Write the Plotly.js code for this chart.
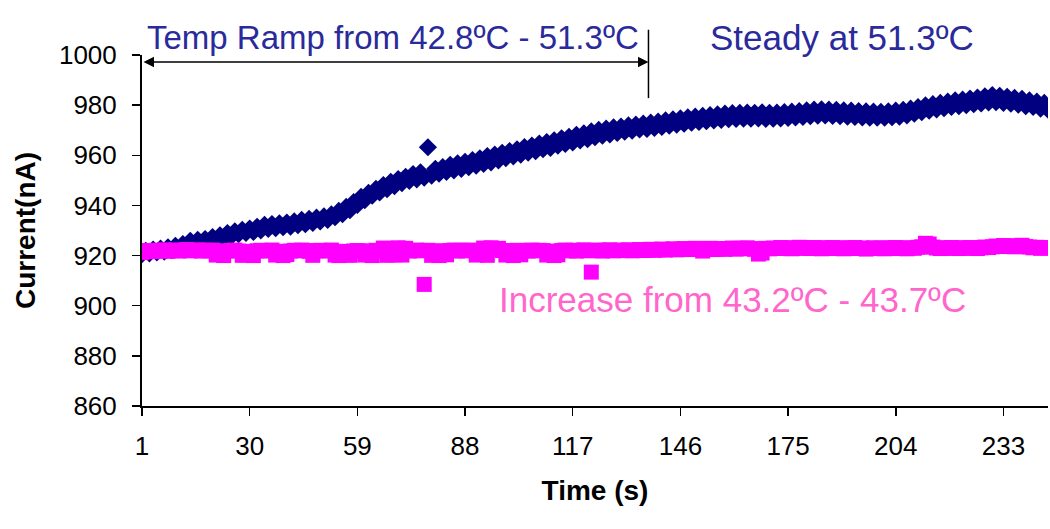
<!DOCTYPE html>
<html>
<head>
<meta charset="utf-8">
<script src="https://cdn.plot.ly/plotly-3.0.1.min.js"></script>
<style>html,body{margin:0;padding:0;background:#fff;}#chart{width:1050px;height:529px;}</style>
</head>
<body>
<div id="chart"></div>
<script>
// Time index 1..245 (s)
const timeStart = 1;
const timeCount = 245;

// Series 1: temperature ramp 42.8ºC - 51.3ºC, then steady at 51.3ºC (navy diamonds)
const currentRamp = [
 920.6, 921.9, 920.9, 922.4, 921.3, 922.8, 921.6, 923.3, 922.2, 923.9,
 922.6, 924.6, 923.5, 925.9, 924.2, 926.3, 925.0, 926.6, 925.5, 927.4,
 926.3, 928.1, 926.9, 929.0, 927.6, 929.7, 928.5, 930.3, 929.0, 930.8,
 929.4, 931.5, 930.0, 932.3, 930.6, 932.6, 930.9, 932.9, 931.3, 933.2,
 931.5, 933.6, 932.1, 934.2, 932.5, 934.6, 933.0, 935.1, 933.6, 935.6,
 934.2, 936.4, 935.3, 937.8, 936.5, 939.4, 938.1, 941.3, 940.2, 943.4,
 942.1, 945.0, 943.9, 946.6, 945.2, 948.1, 946.5, 949.4, 947.7, 950.5,
 948.9, 951.4, 949.8, 952.5, 950.4, 953.2, 951.1, 963.2, 951.9, 954.6,
 952.7, 955.3, 953.4, 956.2, 954.0, 956.8, 954.6, 957.4, 955.3, 958.1,
 955.9, 958.8, 956.6, 959.7, 957.2, 960.3, 958.0, 961.0, 958.9, 961.7,
 959.6, 962.4, 960.3, 963.3, 961.1, 963.9, 961.6, 964.7, 962.4, 965.3,
 962.9, 966.0, 963.8, 966.8, 964.5, 967.4, 965.1, 968.2, 965.9, 968.7,
 966.4, 969.5, 967.2, 970.1, 967.8, 970.6, 968.3, 971.1, 968.9, 971.4,
 969.4, 971.9, 969.8, 972.2, 970.3, 972.6, 970.5, 973.0, 970.9, 973.4,
 971.3, 973.9, 971.8, 974.3, 972.2, 974.7, 972.6, 975.1, 973.0, 975.4,
 973.3, 975.7, 973.6, 976.0, 973.9, 976.3, 974.1, 976.6, 974.4, 976.8,
 974.5, 976.9, 974.6, 977.0, 974.6, 976.9, 974.7, 977.1, 974.5, 976.9,
 974.6, 977.0, 974.7, 977.2, 974.9, 977.4, 975.1, 977.6, 975.3, 977.9,
 975.6, 978.2, 975.8, 978.3, 975.9, 978.2, 975.7, 978.1, 975.6, 977.9,
 975.4, 977.8, 975.3, 977.6, 975.1, 977.5, 975.0, 977.4, 975.0, 977.3,
 975.0, 977.5, 975.2, 977.8, 975.4, 978.1, 975.9, 978.6, 976.6, 979.2,
 977.2, 979.9, 977.8, 980.4, 978.3, 980.9, 978.8, 981.4, 979.3, 981.9,
 979.6, 982.2, 980.0, 982.6, 980.4, 983.0, 980.7, 983.5, 981.1, 984.0,
 981.2, 983.7, 980.9, 983.3, 980.6, 982.9, 980.2, 982.5, 979.6, 981.9,
 979.3, 981.4, 978.6, 980.9, 978.2
];

// Series 2: small increase 43.2ºC - 43.7ºC (magenta squares)
const currentSmall = [
 921.2, 921.8, 922.0, 921.6, 922.1, 921.9, 922.3, 921.7, 922.0, 922.2,
 921.8, 922.1, 922.4, 921.9, 922.0, 922.3, 921.8, 922.1, 921.9, 922.2,
 920.2, 921.6, 920.0, 921.9, 922.0, 922.2, 921.8, 920.1, 920.3, 921.7,
 920.0, 921.9, 922.1, 922.0, 921.8, 922.2, 920.2, 921.7, 920.0, 920.4,
 921.8, 922.1, 921.9, 922.2, 922.0, 921.7, 920.1, 921.9, 922.1, 922.0,
 921.8, 922.2, 920.2, 920.0, 921.7, 920.3, 920.1, 921.8, 922.0, 921.9,
 920.2, 921.7, 920.0, 922.1, 921.9, 923.0, 920.1, 922.8, 920.3, 923.1,
 920.2, 922.9, 921.8, 922.0, 922.2, 921.9, 908.5, 922.1, 920.1, 921.8,
 920.0, 921.9, 920.3, 922.0, 922.2, 921.8, 922.1, 921.9, 922.2, 922.0,
 920.2, 921.8, 923.0, 920.1, 923.1, 922.8, 922.9, 922.0, 920.2, 921.9,
 920.0, 922.1, 920.3, 922.0, 921.8, 922.2, 921.9, 922.1, 922.0, 920.2,
 921.8, 920.0, 920.3, 922.0, 922.2, 921.9, 922.1, 921.8, 922.0, 922.3,
 921.9, 913.4, 922.0, 922.2, 921.8, 922.1, 922.3, 921.9, 922.0, 922.2,
 922.0, 922.3, 921.9, 922.1, 922.4, 922.0, 922.2, 922.5, 922.1, 922.3,
 922.6, 922.2, 922.4, 922.7, 922.3, 922.5, 922.8, 922.4, 922.6, 922.9,
 922.5, 921.8, 922.7, 922.9, 922.4, 922.6, 922.8, 922.5, 922.7, 923.0,
 922.6, 922.9, 922.7, 923.1, 922.8, 922.5, 920.6, 921.0, 922.9, 922.7,
 923.0, 922.8, 923.2, 922.9, 923.1, 922.7, 923.0, 923.3, 922.9, 923.1,
 922.8, 923.2, 923.0, 922.7, 923.1, 922.9, 923.2, 922.8, 923.0, 922.7,
 923.1, 922.9, 923.2, 922.8, 923.0, 922.6, 922.9, 923.1, 922.8, 923.0,
 922.7, 923.1, 922.9, 923.2, 922.8, 923.0, 922.7, 923.1, 922.9, 923.3,
 923.5, 924.9, 924.6, 923.4, 923.0, 922.8, 923.1, 922.9, 923.2, 923.0,
 922.8, 923.1, 922.9, 923.2, 923.0, 922.8, 923.1, 923.4, 923.2, 923.5,
 923.8, 923.6, 924.0, 923.7, 923.9, 923.5, 923.8, 924.1, 923.6, 923.4,
 923.1, 923.3, 922.9, 923.2, 923.0
];

const xTickVals = [1, 30, 59, 88, 117, 146, 175, 204, 233];
const yTickVals = [860, 880, 900, 920, 940, 960, 980, 1000];
const xRange = [1, 245];
const yRange = [860, 1000];

// annotation labels
const rampLabel = "Temp Ramp from 42.8ºC - 51.3ºC";
const steadyLabel = "Steady at 51.3ºC";
const smallLabel = "Increase from 43.2ºC - 43.7ºC";
const rampEnd = 137.4;      // end of ramp period (s)
const arrowLevel = 997.2;   // current level of the arrow (nA)

const times = [];
for (let i = 0; i < timeCount; i++) times.push(timeStart + i);

const FONT = "Liberation Sans, Arial, sans-serif";
const xFrac = v => (v - xRange[0]) / (xRange[1] - xRange[0]);
const yFrac = v => (v - yRange[0]) / (yRange[1] - yRange[0]);

const traces = [
  {
    x: times, y: currentRamp, type: "scatter", mode: "markers",
    name: "ramp",
    marker: {symbol: "diamond", size: 14, color: "#000080", line: {width: 0}},
    cliponaxis: true
  },
  {
    x: times, y: currentSmall, type: "scatter", mode: "markers",
    name: "small",
    marker: {symbol: "square", size: 15, color: "#FF00FF", line: {width: 0}},
    cliponaxis: true
  }
];

const layout = {
  width: 1050, height: 529,
  margin: {l: 142, r: 2, t: 55, b: 123},
  paper_bgcolor: "#ffffff", plot_bgcolor: "#ffffff",
  showlegend: false,
  font: {family: FONT, color: "#000"},
  xaxis: {
    range: xRange, tickvals: xTickVals, ticktext: xTickVals.map(String),
    showgrid: false, zeroline: false, showline: true, linecolor: "#000", linewidth: 1.5,
    ticks: "outside", ticklen: 8, tickwidth: 1.5, tickcolor: "#000",
    ticklabelstandoff: 8,
    tickfont: {family: FONT, size: 26, color: "#000"},
    title: {text: "Time (s)", font: {family: FONT, size: 28, color: "#000", weight: "bold"}, standoff: 20}
  },
  yaxis: {
    range: yRange, tickvals: yTickVals,
    showgrid: false, zeroline: false, showline: true, linecolor: "#000", linewidth: 2,
    ticks: "outside", ticklen: 8, tickwidth: 1.5, tickcolor: "#000",
    ticklabelstandoff: 10,
    tickfont: {family: FONT, size: 26, color: "#000"},
    title: {text: "Current(nA)", font: {family: FONT, size: 28, color: "#000", weight: "bold"}, standoff: 15}
  },
  shapes: [
    {type: "line", xref: "paper", yref: "paper",
     x0: xFrac(rampEnd), x1: xFrac(rampEnd), y0: yFrac(982.8), y1: 1.072,
     line: {color: "#000", width: 1.5}}
  ],
  annotations: [
    {xref: "x", yref: "y", x: rampEnd, y: arrowLevel, ax: xRange[0], ay: arrowLevel,
     axref: "x", ayref: "y", text: "", showarrow: true, arrowhead: 2, startarrowhead: 2,
     arrowside: "end+start", arrowsize: 1.4, arrowwidth: 1.5, arrowcolor: "#000"},
    {xref: "paper", yref: "paper", x: 0.003, y: 1.05, xanchor: "left", yanchor: "middle",
     text: rampLabel, showarrow: false, font: {family: FONT, size: 33, color: "#2A2A9A"}},
    {xref: "paper", yref: "paper", x: 0.625, y: 1.05, xanchor: "left", yanchor: "middle",
     text: steadyLabel, showarrow: false, font: {family: FONT, size: 35, color: "#2A2A9A"}},
    {xref: "x", yref: "y", x: 96.7, y: 902.3, xanchor: "left", yanchor: "middle",
     text: smallLabel, showarrow: false, font: {family: FONT, size: 35, color: "#FF66CC"}}
  ]
};

Plotly.newPlot("chart", traces, layout, {displayModeBar: false, staticPlot: true});
</script>
</body>
</html>
